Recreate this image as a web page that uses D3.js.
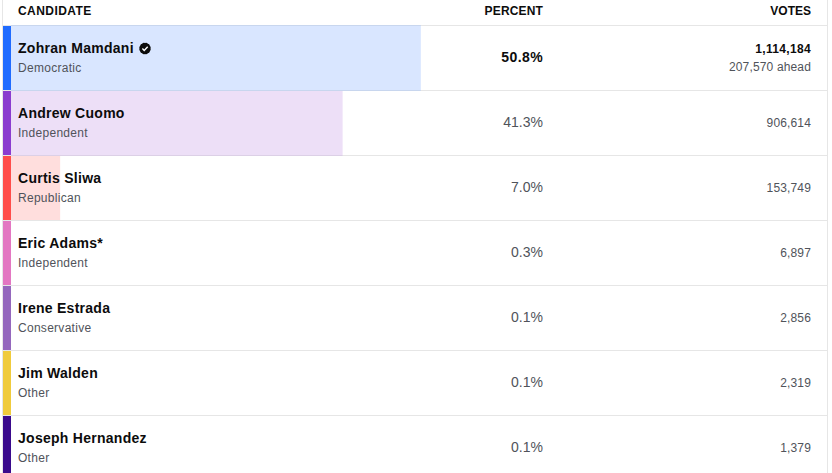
<!DOCTYPE html>
<html><head><meta charset="utf-8">
<script src="https://cdn.jsdelivr.net/npm/d3@7"></script>
<style>
html,body{margin:0;padding:0;background:#fff;overflow:hidden}
svg{display:block;font-family:"Liberation Sans",Arial,sans-serif;text-rendering:optimizeSpeed}
</style></head><body>
<svg id="c" width="832" height="473"></svg>
<script>
const candidates=["Zohran Mamdani","Andrew Cuomo","Curtis Sliwa","Eric Adams*","Irene Estrada","Jim Walden","Joseph Hernandez"];
const parties=["Democratic","Independent","Republican","Independent","Conservative","Other","Other"];
const percents=[50.8,41.3,7.0,0.3,0.1,0.1,0.1];
const votes=[1114184,906614,153749,6897,2856,2319,1379];
const swatches=["#1f6bff","#8a3ccf","#ff4d4a","#e377c2","#9467bd","#f0cb3c","#3a0a8c"];
const fills=["#d9e6ff","#eddff7","#ffdedd","#fbe8f5","#efe8f7","#fdf7df","#e3dcf0"];
const leadNote="207,570 ahead";
const headers=["CANDIDATE","PERCENT","VOTES"];

const svg=d3.select("#c");
const x=d3.scaleLinear().domain([0,100]).range([2.5,826]);
const y=d3.scaleBand().domain(d3.range(candidates.length)).range([26,481]).padding(0);
const fmt=d3.format(",");
const rows=svg.selectAll("g.row").data(candidates).join("g").attr("class","row")
  .attr("transform",(d,i)=>`translate(0,${y(i)})`);
const h=y.bandwidth();

rows.append("rect").attr("x",x(0)).attr("y",0).attr("height",h-1)
  .attr("width",(d,i)=>x(percents[i])-x(0)).attr("fill",(d,i)=>fills[i]);
rows.append("rect").attr("x",3).attr("y",0).attr("width",8).attr("height",h)
  .attr("fill",(d,i)=>swatches[i]);
rows.append("line").attr("x1",3).attr("x2",828).attr("y1",h-.5).attr("y2",h-.5)
  .attr("stroke","#e6e6e6");
rows.filter((d,i)=>i<2).append("line").attr("x1",11).attr("x2",(d,i)=>x(percents[i]))
  .attr("y1",h-.5).attr("y2",h-.5).attr("stroke",(d,i)=>i==0?"#c8d6ee":"#dcd0e6");

svg.append("line").attr("x1",3).attr("x2",828).attr("y1",25.5).attr("y2",25.5).attr("stroke","#e6e6e6");
svg.append("line").attr("x1",11).attr("x2",x(percents[0])).attr("y1",25.5).attr("y2",25.5).attr("stroke","#c8d6ee");
svg.append("line").attr("x1",2.5).attr("x2",2.5).attr("y1",0).attr("y2",473).attr("stroke","#e6e6e6");
svg.append("line").attr("x1",827.5).attr("x2",827.5).attr("y1",0).attr("y2",473).attr("stroke","#e6e6e6");

const hx=[18,543,811], ha=["start","end","end"], hs=[.45,.15,0];
svg.selectAll("text.h").data(headers).join("text").attr("class","h")
  .attr("x",(d,i)=>hx[i]).attr("y",15).attr("text-anchor",(d,i)=>ha[i])
  .attr("letter-spacing",(d,i)=>hs[i])
  .attr("font-size",12).attr("font-weight",700).attr("fill","#0c0c0c").text(d=>d);

rows.append("text").attr("x",18).attr("y",26.5).attr("font-size",14).attr("font-weight",700)
  .attr("letter-spacing",.27).attr("fill","#0c0c0c").text(d=>d);
rows.append("text").attr("x",18).attr("y",46).attr("font-size",12).attr("fill","#50535a")
  .attr("letter-spacing",.28).text((d,i)=>parties[i]);
rows.append("text").attr("x",543).attr("y",h/2+3.5).attr("text-anchor","end")
  .attr("font-size",14).attr("font-weight",(d,i)=>i==0?700:400)
  .attr("letter-spacing",(d,i)=>i==0?.4:0)
  .attr("fill",(d,i)=>i==0?"#0c0c0c":"#50535a")
  .text((d,i)=>percents[i].toFixed(1)+"%");
rows.append("text").attr("x",811).attr("y",(d,i)=>i==0?27:h/2+3.5).attr("text-anchor","end")
  .attr("font-size",12).attr("font-weight",(d,i)=>i==0?700:400)
  .attr("letter-spacing",(d,i)=>i==0?.33:.15)
  .attr("fill",(d,i)=>i==0?"#0c0c0c":"#50535a")
  .text((d,i)=>fmt(votes[i]));
rows.filter((d,i)=>i==0).append("text").attr("x",811).attr("y",45).attr("text-anchor","end")
  .attr("letter-spacing",.15).attr("font-size",12).attr("fill","#50535a").text(leadNote);

const b=rows.filter((d,i)=>i==0).append("g").attr("transform","translate(145,22.5)");
[0,30,60].forEach(a=>b.append("rect").attr("x",-4.7).attr("y",-4.7).attr("width",9.4).attr("height",9.4)
  .attr("rx",2).attr("fill","#0c0c0c").attr("transform",`rotate(${a})`));
b.append("path").attr("d","M-2.6,0.1L-0.8,1.9L2.7,-1.8").attr("fill","none").attr("stroke","#fff").attr("stroke-width",1.4);
</script>
</body></html>
